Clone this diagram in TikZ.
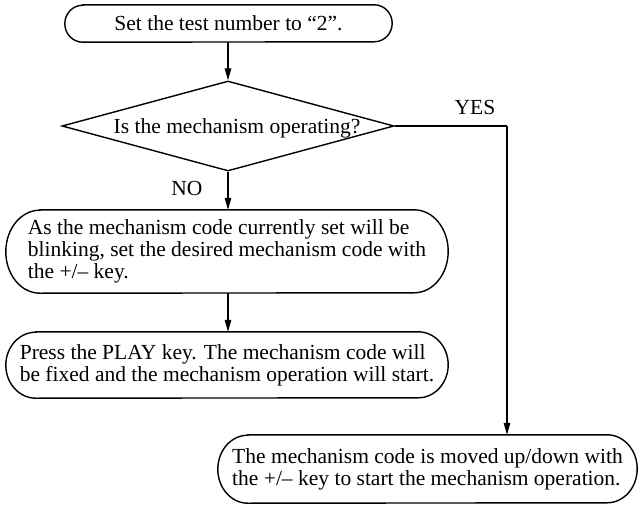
\documentclass[tikz,border=0pt]{standalone}
\usepackage{fontspec}
\setmainfont{Liberation Serif}
\usetikzlibrary{arrows.meta,shapes.geometric}

% outline of a box with elliptical ends: #1 node, #2 end radius, #3 half height
\newcommand\capsuleoutline[3]{%
  \draw[boxline] ([xshift=#2]#1.north west) -- ([xshift=-#2]#1.north east)
    arc[start angle=90,end angle=-90,x radius=#2,y radius=#3]
    -- ([xshift=#2]#1.south west)
    arc[start angle=270,end angle=90,x radius=#2,y radius=#3] -- cycle;}

\tikzset{
  txt/.style={font=\fontsize{21.5}{22}\selectfont, inner sep=0pt},
  boxline/.style={line width=1.4pt, black},
  capsule/.style={rectangle, draw=none, inner sep=0pt, align=left, txt},
  decision/.style={diamond, draw, line width=1.4pt, inner sep=0pt},
  flow/.style={line width=1.3pt, -{Triangle[length=12pt,width=6.5pt]}},
  wire/.style={line width=1.3pt},
}

\begin{document}
\begin{tikzpicture}[x=1pt,y=1pt]
  \useasboundingbox (0,0) rectangle (638,-506);

  % process boxes
  \node[capsule, minimum width=327pt, minimum height=37pt] (start) at (228.5,-23.5)
    {Set the test number to “2”.};
  \capsuleoutline{start}{18pt}{18.5pt}

  \node[capsule, minimum width=442pt, minimum height=83pt] (select) at (227,-251.5)
    {As the mechanism code currently set will be\\
     blinking, set the desired mechanism code with\\
     the +/– key.};
  \capsuleoutline{select}{34pt}{41.5pt}

  \node[capsule, minimum width=442pt, minimum height=66pt] (play) at (227,-365)
    {Press the PLAY key. The mechanism code will\\
     be fixed and the mechanism operation will start.};
  \capsuleoutline{play}{30pt}{33pt}

  \node[capsule, minimum width=419pt, minimum height=68pt] (move) at (427.5,-469)
    {The mechanism code is moved up/down with\\
     the +/– key to start the mechanism operation.};
  \capsuleoutline{move}{30pt}{34pt}

  % decision
  \node[decision, minimum width=332pt, minimum height=90pt] (ask) at (228,-126) {};
  \node[txt] (askt) at (237,-128) {Is the mechanism operating?};

  % branch labels
  \node[txt] (yes) at (475,-107) {YES};
  \node[txt] (no) at (187,-188) {NO};

  % connectors
  \coordinate (turn) at (507,-126);
  \draw[flow] (start.south -| ask.north) -- (ask.north);
  \draw[flow] (ask.south) -- (ask.south |- select.north);
  \draw[flow] (select.south -| ask.south) -- (play.north -| ask.south);
  \draw[wire] (ask.east) -- (turn);
  \draw[flow] (turn) -- (turn |- move.north);
\end{tikzpicture}
\end{document}
